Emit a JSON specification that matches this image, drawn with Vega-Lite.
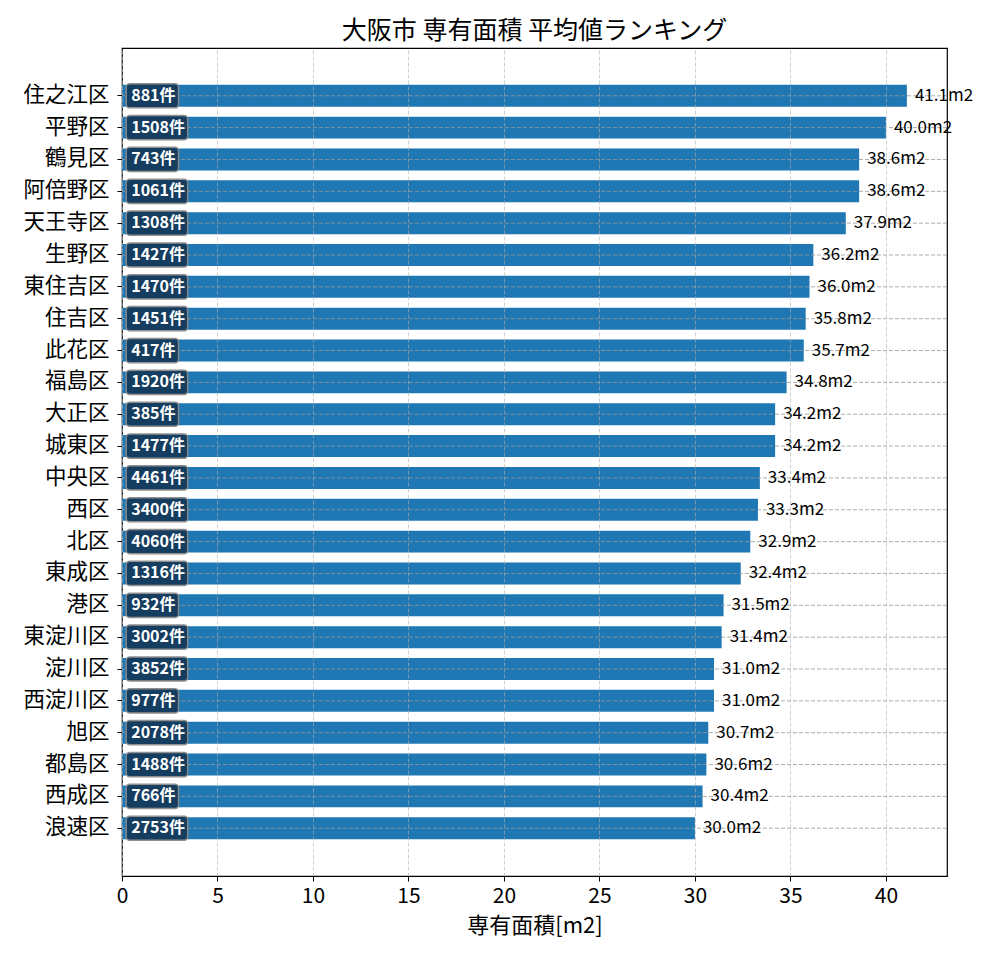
{
  "$schema": "https://vega.github.io/schema/vega-lite/v6.json",
  "autosize": {"type": "none"},
  "width": 825,
  "height": 828,
  "padding": {"left": 122, "top": 48, "right": 53, "bottom": 84},
  "config": {
    "font": "Noto Sans CJK JP",
    "view": {"stroke": "#000000", "strokeWidth": 1.2},
    "background": "#ffffff"
  },
  "title": {
    "text": "大阪市 専有面積 平均値ランキング",
    "fontSize": 25,
    "fontWeight": "normal",
    "color": "#000000",
    "anchor": "middle",
    "offset": 4
  },
  "data": {
    "values": [
      {"ward": "住之江区", "area": 41.1, "count": 881},
      {"ward": "平野区", "area": 40.0, "count": 1508},
      {"ward": "鶴見区", "area": 38.6, "count": 743},
      {"ward": "阿倍野区", "area": 38.6, "count": 1061},
      {"ward": "天王寺区", "area": 37.9, "count": 1308},
      {"ward": "生野区", "area": 36.2, "count": 1427},
      {"ward": "東住吉区", "area": 36.0, "count": 1470},
      {"ward": "住吉区", "area": 35.8, "count": 1451},
      {"ward": "此花区", "area": 35.7, "count": 417},
      {"ward": "福島区", "area": 34.8, "count": 1920},
      {"ward": "大正区", "area": 34.2, "count": 385},
      {"ward": "城東区", "area": 34.2, "count": 1477},
      {"ward": "中央区", "area": 33.4, "count": 4461},
      {"ward": "西区", "area": 33.3, "count": 3400},
      {"ward": "北区", "area": 32.9, "count": 4060},
      {"ward": "東成区", "area": 32.4, "count": 1316},
      {"ward": "港区", "area": 31.5, "count": 932},
      {"ward": "東淀川区", "area": 31.4, "count": 3002},
      {"ward": "淀川区", "area": 31.0, "count": 3852},
      {"ward": "西淀川区", "area": 31.0, "count": 977},
      {"ward": "旭区", "area": 30.7, "count": 2078},
      {"ward": "都島区", "area": 30.6, "count": 1488},
      {"ward": "西成区", "area": 30.4, "count": 766},
      {"ward": "浪速区", "area": 30.0, "count": 2753}
    ]
  },
  "transform": [
    {"calculate": "datum.count + '件'", "as": "countLabel"},
    {"calculate": "format(datum.area, '.1f') + 'm2'", "as": "areaLabel"},
    {"calculate": "0.22", "as": "boxStart"},
    {"calculate": "0.22 + 0.48 * length(toString(datum.count)) + 1.3", "as": "boxEnd"}
  ],
  "encoding": {
    "y": {
      "field": "ward",
      "type": "nominal",
      "sort": null,
      "title": null,
      "scale": {"paddingInner": 0, "paddingOuter": 1.055},
      "axis": {
        "labelFontSize": 21.5,
        "labelColor": "#000000",
        "labelPadding": 8,
        "tickSize": 5,
        "tickColor": "#000000",
        "domain": false,
        "grid": false
      }
    }
  },
  "layer": [
    {
      "mark": {"type": "bar", "height": {"band": 0.69}, "color": "#1f77b4"},
      "encoding": {
        "x": {
          "field": "area",
          "type": "quantitative",
          "title": "専有面積[m2]",
          "scale": {"domain": [0, 43.2], "nice": false, "zero": true},
          "axis": {
            "values": [0, 5, 10, 15, 20, 25, 30, 35, 40],
            "labelFontSize": 21,
            "labelColor": "#000000",
            "labelPadding": 4,
            "labelFlush": false,
            "tickSize": 5,
            "tickColor": "#000000",
            "domain": false,
            "grid": true,
            "gridColor": "#b0b0b0",
            "gridOpacity": 0.6,
            "gridDash": [4, 2],
            "titleFontSize": 22,
            "titleFontWeight": "normal",
            "titleColor": "#000000",
            "titlePadding": 9,
            "zindex": 1
          }
        }
      }
    },
    {
      "mark": {"type": "rule", "color": "#999999", "opacity": 0.8, "strokeDash": [4, 2], "strokeWidth": 1},
      "encoding": {}
    },
    {
      "mark": {
        "type": "bar",
        "height": {"band": 0.76},
        "color": "#143a5c",
        "cornerRadius": 3.5,
        "stroke": "#8a8a8a",
        "strokeWidth": 1.5,
        "opacity": 0.95
      },
      "encoding": {
        "x": {"field": "boxStart", "type": "quantitative"},
        "x2": {"field": "boxEnd"}
      }
    },
    {
      "mark": {
        "type": "text",
        "align": "left",
        "baseline": "middle",
        "dx": 5,
        "fontSize": 16,
        "fontWeight": "bold",
        "color": "#ffffff"
      },
      "encoding": {
        "x": {"field": "boxStart", "type": "quantitative"},
        "text": {"field": "countLabel"}
      }
    },
    {
      "mark": {
        "type": "text",
        "align": "left",
        "baseline": "middle",
        "dx": 8,
        "fontSize": 17,
        "color": "#000000"
      },
      "encoding": {
        "x": {"field": "area", "type": "quantitative"},
        "text": {"field": "areaLabel"}
      }
    }
  ]
}
